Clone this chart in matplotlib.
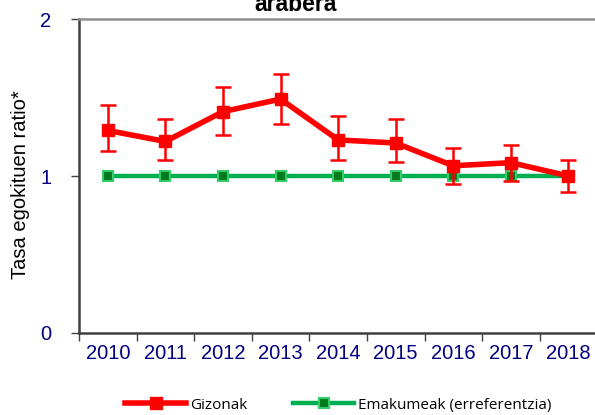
import matplotlib.pyplot as plt
from matplotlib.lines import Line2D

years = ['2010', '2011', '2012', '2013', '2014', '2015', '2016', '2017', '2018']
gizonak = [1.29, 1.22, 1.41, 1.49, 1.23, 1.21, 1.065, 1.085, 1.0]
gizonak_hi = [1.45, 1.36, 1.57, 1.65, 1.38, 1.36, 1.18, 1.20, 1.10]
gizonak_lo = [1.16, 1.10, 1.26, 1.33, 1.10, 1.09, 0.95, 0.97, 0.90]
emakumeak = [1.0, 1.0, 1.0, 1.0, 1.0, 1.0, 1.0, 1.0, 1.0]

plt.rcParams['font.family'] = ['Liberation Sans', 'DejaVu Sans']

fig = plt.figure(figsize=(5.95, 4.15), dpi=100)
ax = fig.add_axes([0.1328, 0.1976, 0.871, 0.7566])

x = list(range(len(years)))
yerr = [[g - lo for g, lo in zip(gizonak, gizonak_lo)],
        [hi - g for g, hi in zip(gizonak, gizonak_hi)]]

ax.plot(x, emakumeak, color='#00b050', lw=3.2, marker='s', ms=7,
        mfc='#007a1e', mec='#33cc66', mew=1.5, zorder=3)
ax.errorbar(x, gizonak, yerr=yerr, fmt='none', ecolor='red', elinewidth=1.8,
            capsize=6, capthick=1.8, zorder=4)
ax.plot(x, gizonak, color='red', lw=4, marker='s', ms=8, zorder=5)

ax.set_xlim(-0.5, len(years) - 0.5)
ax.set_ylim(0, 2)
ax.set_yticks([0, 1, 2])
ax.set_xticks([i - 0.5 for i in range(len(years))])
ax.set_xticklabels([])
ax.set_xticks(x, minor=True)
ax.set_xticklabels(years, minor=True)
ax.tick_params(axis='x', which='major', length=6, width=1, color='#404040')
ax.tick_params(axis='x', which='minor', length=0, pad=8, labelsize=14.5, labelcolor='#000080')
ax.tick_params(axis='y', length=6, width=1, color='#404040', pad=14,
               labelsize=14.5, labelcolor='#000080')

for s in ['left', 'bottom']:
    ax.spines[s].set_color('#404040')
    ax.spines[s].set_linewidth(1.8)
for s in ['top', 'right']:
    ax.spines[s].set_color('#909090')
    ax.spines[s].set_linewidth(1.8)

ax.set_ylabel('Tasa egokituen ratio*', fontsize=14.5)
ax.yaxis.set_label_coords(-0.094, 0.471)

fig.text(296 / 595, 1 - 10.6 / 415, 'arabera', ha='center', va='baseline',
         fontsize=16.5, fontweight='bold')

handles = [
    Line2D([], [], color='red', lw=4, marker='s', ms=8),
    Line2D([], [], color='#00b050', lw=3.2, marker='s', ms=7,
           mfc='#007a1e', mec='#33cc66', mew=1.5),
]
fig.legend(handles, ['Gizonak', 'Emakumeak (erreferentzia)'], loc='center left',
           bbox_to_anchor=(125 / 595, 1 - 405 / 415), ncol=2, frameon=False,
           prop={'family': 'Open Sans', 'size': 11}, handlelength=4,
           handletextpad=0.26, columnspacing=3.0, borderpad=0, borderaxespad=0)

fig.savefig('out.png', dpi=100)
